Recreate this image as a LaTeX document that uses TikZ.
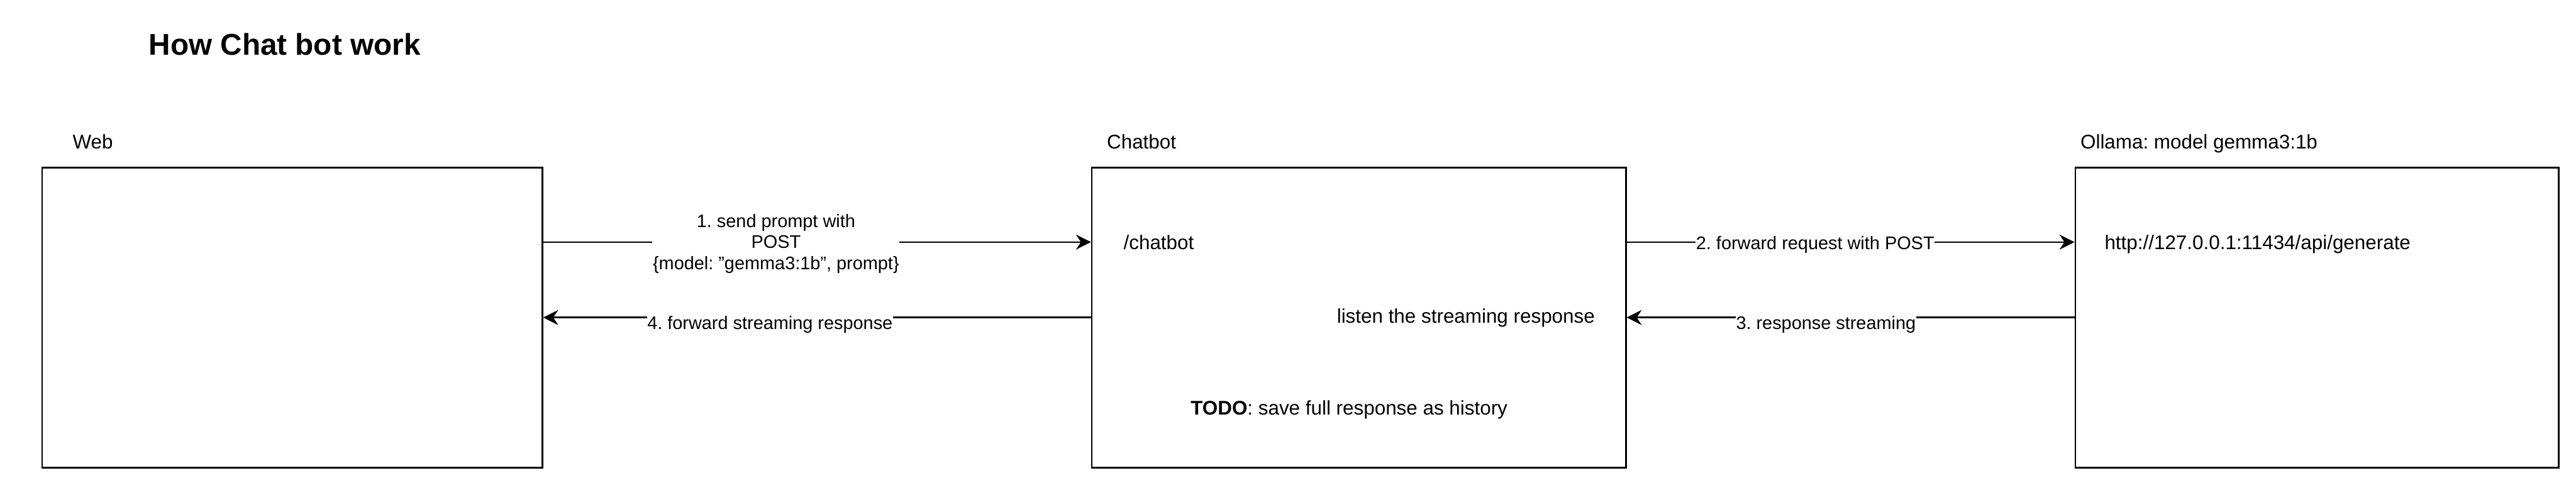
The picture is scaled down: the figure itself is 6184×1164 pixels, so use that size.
\documentclass[tikz,border=0pt]{standalone}
\usepackage{fontspec}
\setmainfont{Liberation Sans}
\usetikzlibrary{arrows.meta,calc}
\frenchspacing
\begin{document}
\frenchspacing
\begin{tikzpicture}[x=0.5pt,y=-0.5pt,
  txt/.style={font=\fontsize{23.7pt}{27.5pt}\selectfont, inner sep=0pt},
  box/.style={draw, line width=2pt, minimum height=360pt, inner sep=0pt},
  lbl/.style={txt, anchor=base west},
  elabel/.style={font=\fontsize{21.8pt}{25.5pt}\selectfont, fill=white, align=center, inner xsep=0.5pt, inner ysep=1pt},
  arr/.style={line width=2pt, -{Stealth[length=18pt,width=18pt,inset=6pt]}}
]
\useasboundingbox (0,0) rectangle (6184,1164);

% title
\node[txt, anchor=base west, font=\fontsize{36pt}{43pt}\selectfont\bfseries] (title) at (357,132) {How Chat bot work};

% boxes
\node[box, minimum width=600.5pt] (web) at (701.5,762) {};
\node[box, minimum width=641pt] (chat) at (3262,762) {};
\node[box, minimum width=580pt] (oll) at (5562,762) {};

% box titles
\node[lbl] (webt) at (174,357) {Web};
\node[lbl] (chatt) at (2657,357) {Chatbot};
\node[lbl] (ollt) at (4994,357) {Ollama: model gemma3:1b};

% inner texts
\node[lbl] (route) at (2697,598) {/chatbot};
\node[lbl] (listen) at (3209,776) {listen the streaming response};
\node[lbl] (todo) at (2858,996) {\textbf{TODO}: save full response as history};
\node[lbl] (url) at (5052,598) {http://127.0.0.1:11434/api/generate};

% anchor points
\coordinate (webq) at ($(web.north east)!0.25!(web.south east)$);
\coordinate (chatqw) at ($(chat.north west)!0.25!(chat.south west)$);
\coordinate (chatqe) at ($(chat.north east)!0.25!(chat.south east)$);
\coordinate (ollq) at ($(oll.north west)!0.25!(oll.south west)$);

% connectors
\draw[arr] (webq) -- (chatqw)
  node[elabel, pos=0.425, yshift=-2pt] (l1) {1. send prompt with\\POST\\\{model: "gemma3:1b", prompt\}};
\draw[arr] (chat.west) -- (web.east)
  node[elabel, pos=0.586, yshift=-8.5pt] (l4) {4. forward streaming response};
\draw[arr] (chatqe) -- (ollq)
  node[elabel, pos=0.421, yshift=-3pt] (l2) {2. forward request with POST};
\draw[arr] (oll.west) -- (chat.east)
  node[elabel, pos=0.555, yshift=-8.5pt] (l3) {3. response streaming};
\end{tikzpicture}
\end{document}
